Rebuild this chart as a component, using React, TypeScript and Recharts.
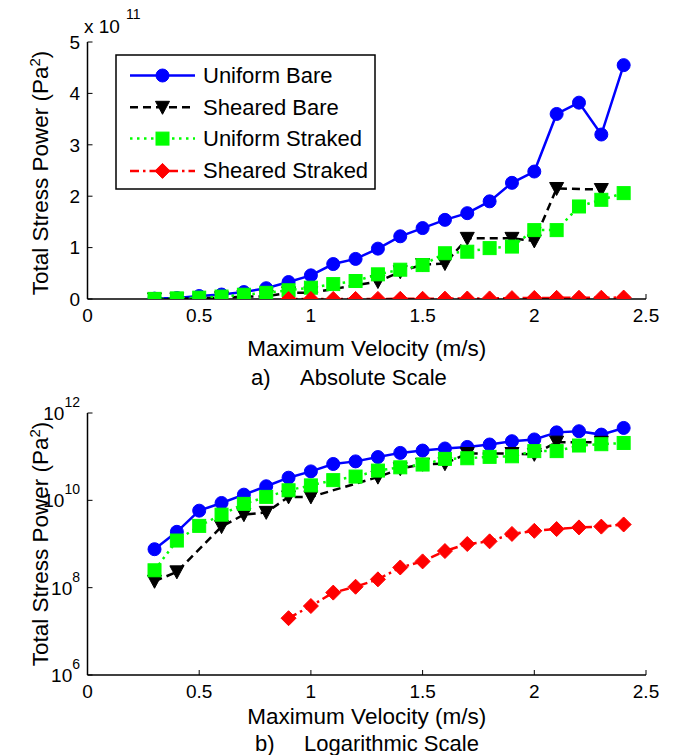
import React from 'react';
import { LineChart, Line, XAxis, YAxis } from 'recharts';

// velocities (m/s) and stress power values (Pa^2)
const velocity = [0.3, 0.4, 0.5, 0.6, 0.7, 0.8, 0.9, 1.0, 1.1, 1.2, 1.3, 1.4, 1.5, 1.6, 1.7, 1.8, 1.9, 2.0, 2.1, 2.2, 2.3, 2.4];
const uniformBare = [7.6e8, 1.9e9, 5.8e9, 8.7e9, 1.35e10, 2.1e10, 3.3e10, 4.6e10, 6.8e10, 7.8e10, 9.8e10, 1.22e11, 1.38e11, 1.54e11, 1.67e11, 1.9e11, 2.26e11, 2.48e11, 3.6e11, 3.82e11, 3.2e11, 4.55e11];
const shearedBare = [1.4e8, 2.3e8, null, 2.5e9, 4.7e9, 5.3e9, 1.2e10, 1.2e10, null, null, 3.4e10, 5.3e10, 6.7e10, 6.9e10, 1.18e11, null, 1.18e11, 1.13e11, 2.15e11, null, 2.13e11, null];
const uniformStraked = [2.5e8, 1.2e9, 2.6e9, 4.7e9, 8.3e9, 1.2e10, 1.7e10, 2.2e10, 2.9e10, 3.5e10, 4.8e10, 5.7e10, 6.6e10, 8.9e10, 9.2e10, 9.9e10, 1.02e11, 1.34e11, 1.34e11, 1.8e11, 1.93e11, 2.06e11];
const shearedStraked = [null, null, null, null, null, null, 2.0e7, 3.8e7, 7.7e7, 1.05e8, 1.55e8, 2.9e8, 4.0e8, 6.9e8, 1.0e9, 1.15e9, 1.7e9, 2.0e9, 2.2e9, 2.4e9, 2.5e9, 2.8e9];

const xTicks = [0, 0.5, 1, 1.5, 2, 2.5];
const absTicks = [0, 1, 2, 3, 4, 5];
const logTicks = [1e6, 1e8, 1e10, 1e12];

const FONT = '"Liberation Sans", Arial, sans-serif';
const TICK_FS = 19;
const LABEL_FS = 22.5;
const CAPTION_FS = 22;
const LEGEND_FS = 22;

const series = [
  { key: 'ub', name: 'Uniform Bare', values: uniformBare, color: '#0000FF', dash: undefined, shape: 'circle' },
  { key: 'sb', name: 'Sheared Bare', values: shearedBare, color: '#000000', dash: '8 5', shape: 'triangle' },
  { key: 'us', name: 'Uniform Straked', values: uniformStraked, color: '#00FF00', dash: '2.5 4.5', shape: 'square' },
  { key: 'ss', name: 'Sheared Straked', values: shearedStraked, color: '#FF0000', dash: '9 4 2.5 4', shape: 'diamond' },
];

const absData = velocity.map((v, i) => {
  const row: any = { v };
  series.forEach(s => { row[s.key] = s.values[i] == null ? null : (s.values[i] as number) / 1e11; });
  return row;
});

const logData = velocity.map((v, i) => {
  const row: any = { v };
  series.forEach(s => { row[s.key] = s.values[i]; });
  return row;
});

function Marker({ shape, color, cx, cy }: any) {
  if (shape === 'circle') return <circle cx={cx} cy={cy} r={6.5} fill={color} stroke={color} />;
  if (shape === 'triangle') return <polygon points={`${cx - 7},${cy - 6} ${cx + 7},${cy - 6} ${cx},${cy + 7}`} fill={color} stroke={color} />;
  if (shape === 'square') return <rect x={cx - 6.5} y={cy - 6.5} width={13} height={13} fill={color} stroke={color} />;
  return <polygon points={`${cx},${cy - 7.5} ${cx + 7.5},${cy} ${cx},${cy + 7.5} ${cx - 7.5},${cy}`} fill={color} stroke={color} />;
}

const makeDot = (shape: string, color: string) => (props: any) => {
  const { cx, cy, index } = props;
  if (cx == null || cy == null || Number.isNaN(cy) || props.value == null) return <g key={`e-${shape}-${index}`} />;
  return <g key={`d-${shape}-${index}`}><Marker shape={shape} color={color} cx={cx} cy={cy} /></g>;
};

const LogTick = (props: any) => {
  const { x, y, payload } = props;
  const exp = Math.round(Math.log10(payload.value));
  return (
    <text x={x} y={y} textAnchor="end" fill="#000" fontSize={TICK_FS} fontFamily={FONT}>
      <tspan dy={7}>10</tspan>
      <tspan dy={-13} fontSize={14}>{exp}</tspan>
    </text>
  );
};

const axisStroke = { stroke: '#000', strokeWidth: 1.5 };

function renderAxes(log: boolean) {
  const yProps: any = log
    ? { scale: 'log', domain: [1e6, 1e12], ticks: logTicks }
    : { type: 'number', domain: [0, 5], ticks: absTicks };
  return [
    <XAxis key="xb" xAxisId="b" dataKey="v" type="number" domain={[0, 2.5]} ticks={xTicks} allowDataOverflow interval={0}
      axisLine={axisStroke} tickLine={{ stroke: '#000' }} tickSize={-5} tickMargin={15} height={40}
      tick={{ fill: '#000', fontSize: TICK_FS, fontFamily: FONT }} />,
    <XAxis key="xt" xAxisId="t" orientation="top" dataKey="v" type="number" domain={[0, 2.5]} ticks={xTicks} allowDataOverflow interval={0}
      axisLine={axisStroke} tickLine={{ stroke: '#000' }} tickSize={-5} tick={false} height={0} />,
    <YAxis key="yl" yAxisId="l" {...yProps} allowDataOverflow interval={0} width={60}
      axisLine={axisStroke} tickLine={{ stroke: '#000' }} tickSize={-5} tickMargin={12.5}
      tick={log ? <LogTick /> : { fill: '#000', fontSize: TICK_FS, fontFamily: FONT }} />,
    <YAxis key="yr" yAxisId="r" orientation="right" {...yProps} allowDataOverflow interval={0} width={0}
      axisLine={axisStroke} tickLine={{ stroke: '#000' }} tickSize={-5} tick={false} />,
  ];
}

function renderLines() {
  return series.map(s => (
    <Line key={s.key} xAxisId="b" yAxisId="l" dataKey={s.key} name={s.name} type="linear"
      stroke={s.color} strokeWidth={2.5} strokeDasharray={s.dash} connectNulls
      dot={makeDot(s.shape, s.color)} activeDot={false} isAnimationActive={false} />
  ));
}

const legendRows = [75.5, 107.3, 138.6, 170.9];

export default function App() {
  return (
    <div style={{ position: 'absolute', left: 0, top: 0, width: 676, height: 755, background: '#fff', fontFamily: FONT }}>
      {/* a) absolute scale */}
      <div style={{ position: 'absolute', left: 0, top: 0 }}>
        <LineChart width={676} height={380} data={absData} margin={{ top: 42, right: 30, bottom: 41, left: 27.5 }}>
          {renderAxes(false)}
          {renderLines()}
        </LineChart>
      </div>

      {/* b) logarithmic scale */}
      <div style={{ position: 'absolute', left: 0, top: 380 }}>
        <LineChart width={676} height={375} data={logData} margin={{ top: 33, right: 30, bottom: 40, left: 27.5 }}>
          {renderAxes(true)}
          {renderLines()}
        </LineChart>
      </div>

      {/* labels, captions and legend */}
      <svg width={676} height={755} style={{ position: 'absolute', left: 0, top: 0, pointerEvents: 'none' }}>
        <text x={84} y={33} fontSize={TICK_FS} fill="#000">x 10</text>
        <text x={126} y={19} fontSize={14} fill="#000">11</text>

        <text transform="translate(48,173) rotate(-90)" textAnchor="middle" fontSize={LABEL_FS} fill="#000">
          <tspan>Total Stress Power (Pa</tspan><tspan dy={-8} fontSize={15}>2</tspan><tspan dy={8}>)</tspan>
        </text>
        <text x={366.75} y={356} textAnchor="middle" fontSize={LABEL_FS} fill="#000">Maximum Velocity (m/s)</text>
        <text x={251} y={385} fontSize={CAPTION_FS} fill="#000">a)</text>
        <text x={300} y={385} fontSize={CAPTION_FS} fill="#000">Absolute Scale</text>

        <text transform="translate(48,544) rotate(-90)" textAnchor="middle" fontSize={LABEL_FS} fill="#000">
          <tspan>Total Stress Power (Pa</tspan><tspan dy={-8} fontSize={15}>2</tspan><tspan dy={8}>)</tspan>
        </text>
        <text x={366.75} y={724} textAnchor="middle" fontSize={LABEL_FS} fill="#000">Maximum Velocity (m/s)</text>
        <text x={255} y={751} fontSize={CAPTION_FS} fill="#000">b)</text>
        <text x={304} y={751} fontSize={CAPTION_FS} fill="#000">Logarithmic Scale</text>

        <rect x={116} y={55} width={259} height={134} fill="#fff" stroke="#000" strokeWidth={1.5} />
        {series.map((s, i) => (
          <g key={s.key}>
            <line x1={130} x2={195} y1={legendRows[i]} y2={legendRows[i]} stroke={s.color} strokeWidth={2.5} strokeDasharray={s.dash} />
            <Marker shape={s.shape} color={s.color} cx={162.5} cy={legendRows[i]} />
            <text x={203} y={legendRows[i] + 7.5} fontSize={LEGEND_FS} fill="#000">{s.name}</text>
          </g>
        ))}
      </svg>
    </div>
  );
}
